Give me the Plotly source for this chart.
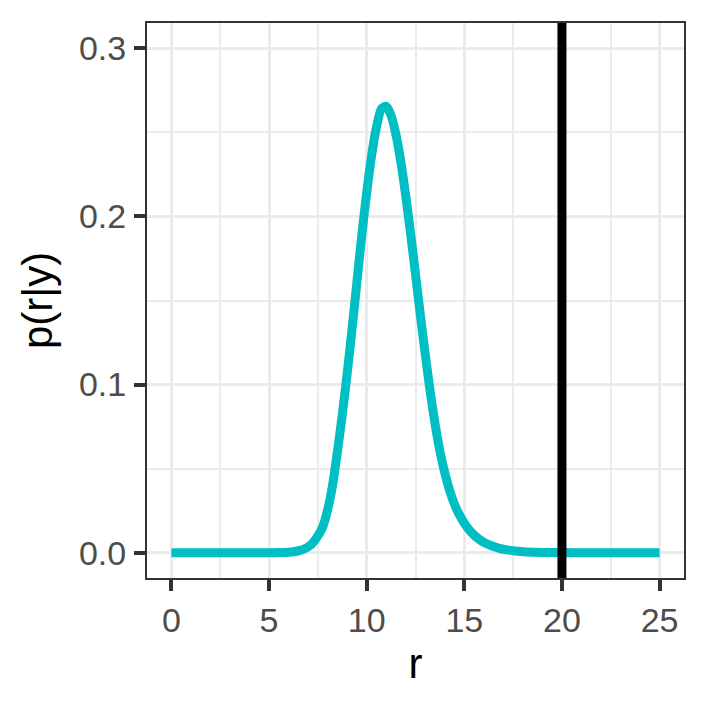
"""
Posterior density p(r|y) with a reference line at r = 20
"""

import plotly.graph_objects as go

# values
r_values = [0, 1, 2, 3, 4, 5, 5.5, 6, 6.25, 6.5, 6.75, 7, 7.25, 7.5, 7.75,
            8, 8.25, 8.5, 8.75, 9, 9.25, 9.5, 9.75, 10, 10.25, 10.5, 10.75,
            11, 11.25, 11.5, 11.75, 12, 12.25, 12.5, 12.75, 13, 13.25, 13.5,
            13.75, 14, 14.25, 14.5, 14.75, 15, 15.25, 15.5, 15.75, 16, 16.25,
            16.5, 16.75, 17, 17.5, 18, 18.5, 19, 20, 21, 22, 23, 24, 25]
p_values = [0, 0, 0, 0, 0, 0, 0.0001, 0.0003, 0.0006, 0.0012, 0.002, 0.0035,
            0.006, 0.010, 0.0155, 0.0255, 0.040, 0.060, 0.082, 0.1065, 0.133,
            0.161, 0.189, 0.214, 0.236, 0.253, 0.264, 0.2655, 0.260, 0.2486,
            0.2324, 0.2122, 0.1897, 0.1656, 0.1412, 0.118, 0.0961, 0.0767,
            0.0605, 0.0475, 0.037, 0.0288, 0.0225, 0.0175, 0.0136, 0.0105,
            0.0081, 0.0062, 0.0048, 0.0037, 0.0028, 0.0021, 0.0012, 0.0006,
            0.0003, 0.0002, 0.0001, 0, 0, 0, 0, 0]
threshold_r = 20

x_ticks = [0, 5, 10, 15, 20, 25]
y_ticks = [0.0, 0.1, 0.2, 0.3]
y_tick_labels = ["0.0", "0.1", "0.2", "0.3"]

FONT = "Liberation Sans, Arial, Helvetica, sans-serif"

fig = go.Figure()

fig.add_trace(go.Scatter(
    x=r_values,
    y=p_values,
    mode="lines",
    line=dict(color="#00BFC4", width=9, shape="spline", smoothing=0.6),
    showlegend=False,
    hoverinfo="skip"
))

# reference line
fig.add_vline(x=threshold_r, line=dict(color="black", width=9), layer="above")

axis_common = dict(
    showgrid=True,
    gridcolor="#EBEBEB",
    gridwidth=3,
    zeroline=False,
    showline=True,
    linecolor="#333333",
    linewidth=2,
    mirror=True,
    ticks="outside",
    ticklen=11,
    tickwidth=3.5,
    tickcolor="#333333",
    tickfont=dict(family=FONT, size=34, color="#4D4D4D"),
    minor=dict(showgrid=True, gridcolor="#EBEBEB", gridwidth=1.7, ticks=""),
    automargin=False
)

fig.update_xaxes(
    axis_common,
    range=[-1.25, 26.25],
    tickvals=x_ticks,
    minor_dtick=2.5,
    ticklabelstandoff=0,
    title=dict(text="r", font=dict(family=FONT, size=42, color="black"), standoff=11)
)
fig.update_yaxes(
    axis_common,
    range=[-0.015, 0.315],
    tickvals=y_ticks,
    ticktext=y_tick_labels,
    minor_dtick=0.05,
    ticklabelstandoff=1,
    title=dict(text="p(r|y)", font=dict(family=FONT, size=42, color="black"), standoff=13)
)

# the page adds an 8px body margin, so the figure is 700px and margins shifted
fig.update_layout(
    width=700,
    height=700,
    plot_bgcolor="white",
    paper_bgcolor="white",
    margin=dict(l=139, r=24, t=15, b=130)
)

fig.write_html("out.html")
